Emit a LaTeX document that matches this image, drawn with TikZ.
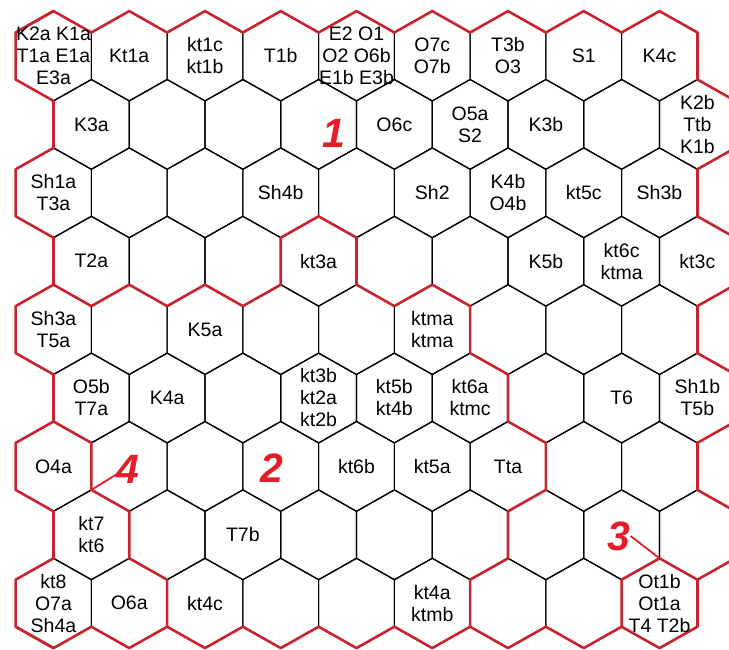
\documentclass[tikz,border=0pt]{standalone}
\usepackage{fontspec}
\setmainfont{Liberation Sans}
\usetikzlibrary{calc}

\definecolor{borderred}{RGB}{200,36,46}
\definecolor{digitred}{RGB}{228,30,40}
\newcommand\cellfont{\fontsize{19.5}{22}\selectfont}
\newcommand\digitfont{\fontsize{41}{41}\selectfont\bfseries\itshape}

\begin{document}
\begin{tikzpicture}[
      x=1pt, y=-1pt,
      hexline/.style={draw=black, line width=1.2pt, line join=round},
      border/.style={draw=borderred, line width=2.6pt, line join=round, line cap=round},
      cell/.style={font=\cellfont, align=center, inner sep=0pt},
      digit/.style={font=\digitfont, text=digitred, inner sep=0pt},
      leader/.style={draw=digitred, line width=1.8pt}
    ]
      \useasboundingbox (0,0) rectangle (729,650);
      \clip (0,0) rectangle (729,650);
      % hex grid, odd rows shifted left by half a cell
      \foreach \r in {1,...,9}{
        \foreach \c in {0,...,8}{
          \pgfmathsetmacro\cx{53.5+75.75*\c+37.875*(1-mod(\r,2))}
          \pgfmathsetmacro\cy{56+68.4*(\r-1)}
          \coordinate (h\r-\c)    at (\cx,\cy);
          \coordinate (h\r-\c-t)  at (\cx,\cy-44.9);
          \coordinate (h\r-\c-ur) at (\cx+37.875,\cy-23.5);
          \coordinate (h\r-\c-lr) at (\cx+37.875,\cy+23.5);
          \coordinate (h\r-\c-b)  at (\cx,\cy+44.9);
          \coordinate (h\r-\c-ll) at (\cx-37.875,\cy+23.5);
          \coordinate (h\r-\c-ul) at (\cx-37.875,\cy-23.5);
          \draw[hexline] (h\r-\c-t) -- (h\r-\c-ur) -- (h\r-\c-lr) -- (h\r-\c-b)
                         -- (h\r-\c-ll) -- (h\r-\c-ul) -- cycle;
        }
      }
      % outer border
      \foreach \c in {0,...,8}{
        \draw[border] (h1-\c-ul) -- (h1-\c-t) -- (h1-\c-ur);
        \draw[border] (h9-\c-ll) -- (h9-\c-b) -- (h9-\c-lr);
      }
      \foreach \r in {1,3,5,7,9}{
        \draw[border] (h\r-0-t) -- (h\r-0-ul) -- (h\r-0-ll) -- (h\r-0-b);
        \draw[border] (h\r-8-ur) -- (h\r-8-lr);
      }
      \foreach \r in {2,4,6,8}{
        \draw[border] (h\r-0-ul) -- (h\r-0-ll);
        \draw[border] (h\r-8-t) -- (h\r-8-ur) -- (h\r-8-lr) -- (h\r-8-b);
      }
      % region borders
      \draw[border] (h4-0-ll) -- (h4-0-b) -- (h4-0-lr) -- (h4-1-b) -- (h4-1-lr)
        -- (h4-2-b) -- (h4-3-ll) -- (h4-3-ul) -- (h4-3-t) -- (h4-3-ur) -- (h4-3-lr)
        -- (h4-4-b) -- (h4-4-lr) -- (h5-5-ur) -- (h5-5-lr) -- (h6-5-ur) -- (h6-5-lr)
        -- (h7-6-ur) -- (h7-6-lr) -- (h7-6-b) -- (h8-5-lr) -- (h8-5-b) -- (h9-5-lr);
      \draw[border] (h7-0-t) -- (h7-0-ur) -- (h7-0-lr) -- (h8-0-ur) -- (h8-0-lr)
        -- (h9-1-ur) -- (h9-1-lr);
      \draw[border] (h9-8-ll) -- (h9-8-ul) -- (h9-8-t) -- (h9-8-ur);
      % row 1
      \node[cell] (k2a)  at (h1-0) {K2a K1a\\T1a E1a\\E3a};
      \node[cell] (kt1a) at (h1-1) {Kt1a};
      \node[cell] (kt1c) at (h1-2) {kt1c\\kt1b};
      \node[cell] (t1b)  at (h1-3) {T1b};
      \node[cell] (e2)   at (h1-4) {E2 O1\\O2 O6b\\E1b E3b};
      \node[cell] (o7c)  at (h1-5) {O7c\\O7b};
      \node[cell] (t3b)  at (h1-6) {T3b\\O3};
      \node[cell] (s1)   at (h1-7) {S1};
      \node[cell] (k4c)  at (h1-8) {K4c};
      % row 2
      \node[cell] (k3a)  at (h2-0) {K3a};
      \node[cell] (o6c)  at (h2-4) {O6c};
      \node[cell] (o5a)  at (h2-5) {O5a\\S2};
      \node[cell] (k3b)  at (h2-6) {K3b};
      \node[cell] (k2b)  at (h2-8) {K2b\\Ttb\\K1b};
      % row 3
      \node[cell] (sh1a) at (h3-0) {Sh1a\\T3a};
      \node[cell] (sh4b) at (h3-3) {Sh4b};
      \node[cell] (sh2)  at (h3-5) {Sh2};
      \node[cell] (k4b)  at (h3-6) {K4b\\O4b};
      \node[cell] (kt5c) at (h3-7) {kt5c};
      \node[cell] (sh3b) at (h3-8) {Sh3b};
      % row 4
      \node[cell] (t2a)  at (h4-0) {T2a};
      \node[cell] (kt3a) at (h4-3) {kt3a};
      \node[cell] (k5b)  at (h4-6) {K5b};
      \node[cell] (kt6c) at (h4-7) {kt6c\\ktma};
      \node[cell] (kt3c) at (h4-8) {kt3c};
      % row 5
      \node[cell] (sh3a) at (h5-0) {Sh3a\\T5a};
      \node[cell] (k5a)  at (h5-2) {K5a};
      \node[cell] (ktma) at (h5-5) {ktma\\ktma};
      % row 6
      \node[cell] (o5b)  at (h6-0) {O5b\\T7a};
      \node[cell] (k4a)  at (h6-1) {K4a};
      \node[cell] (kt3b) at (h6-3) {kt3b\\kt2a\\kt2b};
      \node[cell] (kt5b) at (h6-4) {kt5b\\kt4b};
      \node[cell] (kt6a) at (h6-5) {kt6a\\ktmc};
      \node[cell] (t6)   at (h6-7) {T6};
      \node[cell] (sh1b) at (h6-8) {Sh1b\\T5b};
      % row 7
      \node[cell] (o4a)  at (h7-0) {O4a};
      \node[cell] (kt6b) at (h7-4) {kt6b};
      \node[cell] (kt5a) at (h7-5) {kt5a};
      \node[cell] (tta)  at (h7-6) {Tta};
      % row 8
      \node[cell] (kt7)  at (h8-0) {kt7\\kt6};
      \node[cell] (t7b)  at (h8-2) {T7b};
      % row 9
      \node[cell] (kt8)  at (h9-0) {kt8\\O7a\\Sh4a};
      \node[cell] (o6a)  at (h9-1) {O6a};
      \node[cell] (kt4c) at (h9-2) {kt4c};
      \node[cell] (kt4a) at (h9-5) {kt4a\\ktmb};
      \node[cell] (ot1b) at (h9-8) {Ot1b\\Ot1a\\T4 T2b};
      % region numbers
      \node[digit] (one)   at (334,133) {1};
      \node[digit] (two)   at (272,468) {2};
      \node[digit] (four)  at (128,469) {4};
      \node[digit] (three) at (619,536) {3};
      \draw[leader] (h7-0-lr) -- (four.205);
      \draw[leader] (three.east) -- (h9-8-t);
    \end{tikzpicture}
\end{document}
